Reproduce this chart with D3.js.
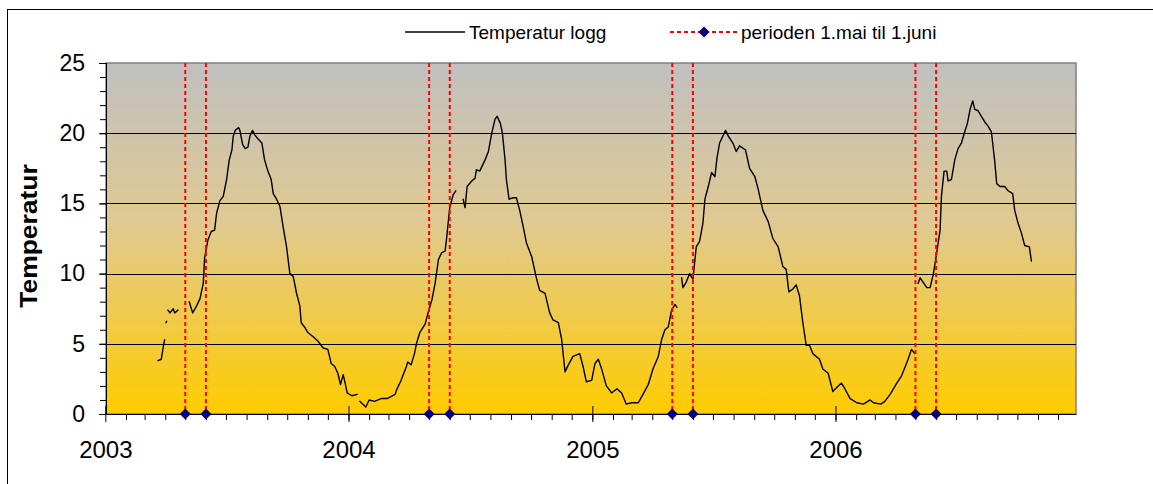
<!DOCTYPE html>
<html>
<head>
<meta charset="utf-8">
<title>Temperatur logg</title>
<style>
body { margin: 0; background: #fff; }
svg { display: block; font-family: Arial, "Liberation Sans", sans-serif; }
.axis path, .axis line { stroke: #000; }
.axis text { fill: #000; }
</style>
</head>
<body>
<svg width="1153" height="484"></svg>
<script src="https://d3js.org/d3.v7.min.js"></script>
<script>

// tick labels
var yearLabels = ["2003", "2004", "2005", "2006"];
var yMajor = [0, 5, 10, 15, 20, 25];

// 1. mai - 1. juni each year
var periodStart = ["2003-05-01", "2004-05-01", "2005-05-01", "2006-05-01"];
var periodEnd = ["2003-06-01", "2004-06-01", "2005-06-01", "2006-06-01"];

// logged temperature, null = gap in logging
var tempLog = [
  ["2003-03-21",3.8],["2003-03-26",3.9],["2003-03-29",4.8],["2003-03-31",5.3], null,
  ["2003-04-02",6.5],["2003-04-03",6.6], null,
  ["2003-04-05",7.4],["2003-04-08",7.2],["2003-04-13",7.5],["2003-04-15",7.2],["2003-04-20",7.4], null,
  ["2003-05-07",8.0],["2003-05-12",7.2],["2003-05-18",7.7],["2003-05-23",8.2],["2003-05-28",9.3],["2003-05-30",11.1],
  ["2003-06-04",12.4],["2003-06-09",13.0],["2003-06-14",13.1],["2003-06-17",14.3],["2003-06-22",15.2],["2003-06-27",15.5],
  ["2003-07-02",16.7],["2003-07-06",18.1],["2003-07-10",18.8],["2003-07-12",19.8],["2003-07-15",20.2],["2003-07-20",20.4],
  ["2003-07-22",20.2],["2003-07-26",19.2],["2003-07-30",18.9],["2003-08-03",19.0],["2003-08-06",19.8],["2003-08-10",20.2],
  ["2003-08-13",19.9],["2003-08-18",19.6],["2003-08-24",19.3],["2003-08-28",18.1],["2003-09-02",17.3],["2003-09-07",16.7],
  ["2003-09-10",15.7],["2003-09-15",15.3],["2003-09-20",14.8],["2003-09-25",13.3],["2003-09-30",11.9],["2003-10-05",10.0],
  ["2003-10-10",9.8],["2003-10-15",8.6],["2003-10-20",7.7],["2003-10-22",6.5],["2003-10-27",6.2],["2003-11-01",5.8],
  ["2003-11-09",5.5],["2003-11-16",5.2],["2003-11-24",4.7],["2003-12-01",4.6],["2003-12-06",3.6],["2003-12-11",3.4],
  ["2003-12-16",2.9],["2003-12-20",2.1],["2003-12-24",2.8],["2003-12-27",2.2],["2003-12-30",1.5],["2004-01-06",1.3],
  ["2004-01-14",1.4], null,
  ["2004-01-18",0.9],["2004-01-27",0.5],["2004-02-01",1.0],["2004-02-09",0.9],["2004-02-19",1.1],["2004-02-28",1.1],
  ["2004-03-11",1.4],["2004-03-13",1.7],["2004-03-20",2.4],["2004-03-28",3.4],["2004-03-30",3.7],["2004-04-04",3.5],
  ["2004-04-09",4.3],["2004-04-12",5.0],["2004-04-17",5.8],["2004-04-25",6.4],["2004-04-30",7.3],["2004-05-05",8.1],
  ["2004-05-10",9.3],["2004-05-15",11.0],["2004-05-20",11.5],["2004-05-25",11.6],["2004-05-27",12.4],["2004-05-30",13.8],
  ["2004-06-01",14.7],["2004-06-06",15.6],["2004-06-10",15.9], null,
  ["2004-06-21",15.3],["2004-06-24",14.7],["2004-06-27",16.2],["2004-07-04",16.6],["2004-07-09",16.8],["2004-07-11",17.4],
  ["2004-07-16",17.3],["2004-07-24",18.1],["2004-07-29",18.7],["2004-08-03",20.0],["2004-08-08",21.0],["2004-08-11",21.2],
  ["2004-08-16",20.7],["2004-08-19",20.0],["2004-08-23",18.1],["2004-08-25",16.7],["2004-08-29",15.3],["2004-09-04",15.4],
  ["2004-09-09",15.4],["2004-09-14",14.5],["2004-09-19",13.4],["2004-09-24",12.2],["2004-10-02",11.2],["2004-10-09",9.7],
  ["2004-10-14",8.8],["2004-10-22",8.6],["2004-10-29",7.2],["2004-11-03",6.7],["2004-11-11",6.5],["2004-11-16",5.3],
  ["2004-11-21",3.0],["2004-11-26",3.5],["2004-12-03",4.1],["2004-12-13",4.3],["2004-12-18",3.4],["2004-12-23",2.3],
  ["2004-12-31",2.4],["2005-01-05",3.6],["2005-01-10",3.9],["2005-01-15",3.2],["2005-01-22",2.0],["2005-01-30",1.5],
  ["2005-02-07",1.8],["2005-02-14",1.5],["2005-02-21",0.7],["2005-03-01",0.8],["2005-03-11",0.8],["2005-03-18",1.4],
  ["2005-03-26",2.1],["2005-04-02",3.2],["2005-04-10",4.1],["2005-04-15",5.3],["2005-04-20",6.0],["2005-04-25",6.2],
  ["2005-04-30",7.4],["2005-05-05",7.8],["2005-05-08",7.6], null,
  ["2005-05-15",9.7],["2005-05-17",9.0],["2005-05-22",9.4],["2005-05-27",10.0],["2005-06-01",9.6],["2005-06-06",11.9],
  ["2005-06-11",12.3],["2005-06-16",13.6],["2005-06-19",15.3],["2005-06-24",16.2],["2005-06-29",17.2],["2005-07-04",16.9],
  ["2005-07-07",18.2],["2005-07-11",19.3],["2005-07-16",19.8],["2005-07-20",20.2],["2005-07-24",19.8],["2005-07-31",19.3],
  ["2005-08-05",18.7],["2005-08-10",19.1],["2005-08-19",18.8],["2005-08-25",17.5],["2005-09-02",16.9],["2005-09-07",16.0],
  ["2005-09-14",14.5],["2005-09-22",13.7],["2005-09-29",12.5],["2005-10-07",11.9],["2005-10-14",10.5],["2005-10-19",10.3],
  ["2005-10-23",8.7],["2005-10-29",8.9],["2005-11-03",9.2],["2005-11-08",8.4],["2005-11-13",6.5],["2005-11-18",4.9],
  ["2005-11-23",4.9],["2005-11-28",4.3],["2005-12-08",3.9],["2005-12-13",3.2],["2005-12-21",2.9],["2005-12-28",1.6],
  ["2006-01-05",2.0],["2006-01-10",2.2],["2006-01-15",1.8],["2006-01-23",1.1],["2006-02-02",0.8],["2006-02-12",0.7],
  ["2006-02-22",1.0],["2006-02-27",0.8],["2006-03-10",0.7],["2006-03-16",0.9],["2006-03-24",1.4],["2006-04-03",2.2],
  ["2006-04-10",2.7],["2006-04-15",3.3],["2006-04-20",3.9],["2006-04-25",4.6],["2006-04-30",4.3], null,
  ["2006-05-05",9.3],["2006-05-08",9.7],["2006-05-18",9.0],["2006-05-23",9.0],["2006-05-28",10.0],["2006-06-02",11.5],
  ["2006-06-07",13.1],["2006-06-09",15.5],["2006-06-13",17.3],["2006-06-17",17.3],["2006-06-19",16.6],["2006-06-24",16.7],
  ["2006-06-29",18.1],["2006-07-04",18.9],["2006-07-09",19.3],["2006-07-14",20.1],["2006-07-18",20.7],["2006-07-22",21.7],
  ["2006-07-26",22.3],["2006-07-29",21.7],["2006-08-03",21.6],["2006-08-08",21.2],["2006-08-13",20.8],["2006-08-18",20.5],
  ["2006-08-23",20.1],["2006-08-28",18.0],["2006-08-31",16.4],["2006-09-05",16.2],["2006-09-12",16.2],["2006-09-17",15.9],
  ["2006-09-24",15.7],["2006-09-27",14.5],["2006-10-02",13.6],["2006-10-07",12.9],["2006-10-12",12.0],["2006-10-19",11.9],
  ["2006-10-22",10.9]
];

var svg = d3.select("svg"),
    margin = {top: 63, right: 77, bottom: 70, left: 106},
    width = +svg.attr("width") - margin.left - margin.right,
    height = +svg.attr("height") - margin.top - margin.bottom;

var parse = d3.timeParse("%Y-%m-%d");

var x = d3.scaleTime().domain([parse("2003-01-02"), parse("2006-12-28")]).range([0, width]),
    y = d3.scaleLinear().domain([0, 25]).range([height, 0]);

// outer chart frame
svg.append("rect")
    .attr("x", 7.5).attr("y", 9.5)
    .attr("width", 1300).attr("height", 600)
    .attr("fill", "none").attr("stroke", "#000");

var grad = svg.append("defs").append("linearGradient")
    .attr("id", "bg").attr("x1", 0).attr("y1", 0).attr("x2", 0).attr("y2", 1);
grad.append("stop").attr("offset", "0%").attr("stop-color", "#c0c0c0");
grad.append("stop").attr("offset", "45%").attr("stop-color", "#e0c992");
grad.append("stop").attr("offset", "100%").attr("stop-color", "#ffcc00");

var g = svg.append("g")
    .attr("transform", "translate(" + margin.left + "," + margin.top + ")");

g.append("rect")
    .attr("width", width).attr("height", height)
    .attr("fill", "url(#bg)")
    .attr("stroke", "#808080").attr("stroke-width", 1.5);

// horizontal gridlines
g.selectAll(".grid")
  .data(yMajor.filter(function(d) { return d > 0 && d < 25; }))
  .enter().append("line")
    .attr("class", "grid")
    .attr("x1", 0).attr("x2", width)
    .attr("y1", function(d) { return Math.round(y(d)) + 0.5; })
    .attr("y2", function(d) { return Math.round(y(d)) + 0.5; })
    .attr("stroke", "#000").attr("stroke-width", 1);

// y axis: minor then major ticks
g.append("g")
    .attr("class", "axis")
    .call(d3.axisLeft(y).tickValues(d3.range(0, 26)).tickSize(6).tickSizeOuter(0).tickFormat(""));

var yAxis = g.append("g")
    .attr("class", "axis")
    .call(d3.axisLeft(y).tickValues(yMajor).tickSize(7).tickSizeOuter(0).tickPadding(14));
yAxis.selectAll("text").attr("font-size", 23).attr("font-family", "Arial, 'Liberation Sans', sans-serif");
yAxis.select(".domain").remove();

// x axis: month ticks, year ticks crossing the axis
var months = d3.timeMonth.range(parse("2003-02-01"), x.domain()[1]);
g.append("g")
    .attr("class", "axis")
    .attr("transform", "translate(0," + height + ")")
    .call(d3.axisBottom(x).tickValues(months).tickSize(6).tickSizeOuter(0).tickFormat(""));

var years = yearLabels.map(function(d) { return parse(d + "-01-01"); });
var xAxis = g.append("g")
    .attr("class", "axis")
    .attr("transform", "translate(0," + height + ")")
    .call(d3.axisBottom(x).tickValues(years).tickSize(8).tickSizeOuter(0).tickPadding(19)
      .tickFormat(function(d, i) { return yearLabels[i]; }));
xAxis.selectAll("text").attr("font-size", 24).attr("font-family", "Arial, 'Liberation Sans', sans-serif");
xAxis.selectAll(".tick").append("line").attr("y2", -8).attr("stroke", "#000");
xAxis.select(".domain").remove();

// axis lines on top
g.append("line").attr("x1", 0.5).attr("x2", 0.5).attr("y1", 0).attr("y2", height).attr("stroke", "#000");
g.append("line").attr("x1", 0).attr("x2", width).attr("y1", height + 0.5).attr("y2", height + 0.5).attr("stroke", "#000");

// temperature line
var line = d3.line()
    .defined(function(d) { return d !== null; })
    .x(function(d) { return x(parse(d[0])); })
    .y(function(d) { return y(d[1]); });

g.append("path")
    .datum(tempLog)
    .attr("fill", "none")
    .attr("stroke", "#000")
    .attr("stroke-width", 1.4)
    .attr("stroke-linejoin", "round")
    .attr("stroke-linecap", "round")
    .attr("d", line);

// period markers
var periods = periodStart.concat(periodEnd);
g.selectAll(".period")
  .data(periods)
  .enter().append("line")
    .attr("class", "period")
    .attr("x1", function(d) { return x(parse(d)); })
    .attr("x2", function(d) { return x(parse(d)); })
    .attr("y1", y(25)).attr("y2", y(0))
    .attr("stroke", "#ff0000").attr("stroke-width", 2)
    .attr("stroke-dasharray", "4,3");

var diamond = "M0,-5.5L5.5,0L0,5.5L-5.5,0Z";
g.selectAll(".marker")
  .data(periods)
  .enter().append("path")
    .attr("class", "marker")
    .attr("d", diamond)
    .attr("transform", function(d) { return "translate(" + x(parse(d)) + "," + y(0) + ")"; })
    .attr("fill", "#000080");

// y label
svg.append("text")
    .attr("transform", "translate(37,236) rotate(-90) scale(1.15,1)")
    .attr("text-anchor", "middle")
    .attr("font-size", 23)
    .attr("font-weight", "bold")
    .text("Temperatur");

// legend
var legend = svg.append("g").attr("font-size", 19);
legend.append("line")
    .attr("x1", 405).attr("x2", 465).attr("y1", 32).attr("y2", 32)
    .attr("stroke", "#000").attr("stroke-width", 1.5);
legend.append("text").attr("x", 469).attr("y", 32).attr("dy", "0.35em").text("Temperatur logg");
legend.append("line")
    .attr("x1", 670).attr("x2", 737).attr("y1", 32).attr("y2", 32)
    .attr("stroke", "#ff0000").attr("stroke-width", 2).attr("stroke-dasharray", "4,3");
legend.append("path").attr("d", diamond).attr("transform", "translate(704,32)").attr("fill", "#000080");
legend.append("text").attr("x", 741).attr("y", 32).attr("dy", "0.35em").text("perioden 1.mai til 1.juni");

</script>
</body>
</html>
